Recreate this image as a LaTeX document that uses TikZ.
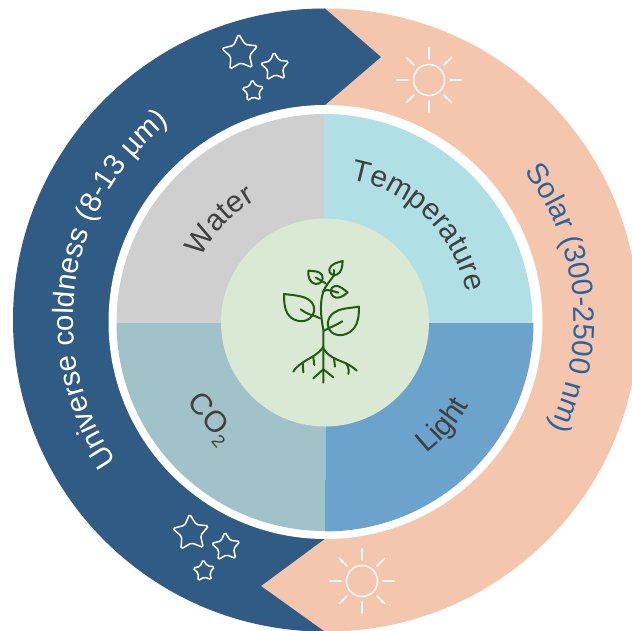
\documentclass[tikz,border=0pt]{standalone}
\usepackage{fontspec}
\setmainfont{Liberation Sans}
\usetikzlibrary{decorations.text}
\definecolor{bandblue}{HTML}{305B85}
\definecolor{bandpeach}{HTML}{F5C6AE}
\definecolor{solarblue}{HTML}{2A64A0}
\definecolor{qgrey}{HTML}{D0CFCF}
\definecolor{qtemp}{HTML}{B0DFE6}
\definecolor{qco}{HTML}{A2C2C9}
\definecolor{qlight}{HTML}{6CA3CC}
\definecolor{corefill}{HTML}{D9E9D3}
\definecolor{plantgreen}{HTML}{245A14}
\definecolor{labelgrey}{HTML}{404040}
\tikzset{
  iconline/.style={draw=white!95!bandpeach,line width=1.5pt,line cap=round},
  starline/.style={draw=white,line width=1.5pt,rounded corners=1.8pt},
  plantline/.style={draw=plantgreen,line width=2pt,line cap=round,line join=round},
  pics/fivestar/.style={code={
    \draw[starline] (-94:1) -- (-58:.52) -- (-22:1) -- (14:.52) -- (50:1) -- (86:.52)
      -- (122:1) -- (158:.52) -- (194:1) -- (230:.52) -- cycle;}},
  pics/sunicon/.style={code={
    \draw[iconline] (0,0) circle[radius=15.5];
    \foreach \a in {0,45,...,315}{\draw[iconline] (\a:21) -- (\a:32);}
  }}
}
\begin{document}
\begin{tikzpicture}[x=1pt,y=-1pt]
\useasboundingbox (0,0) rectangle (632,631);
\clip (0,0) rectangle (632,631);
% ring
\fill[bandpeach] (327,320) circle[radius=311.5];
\fill[bandblue] (325,8.5) -- (381,57) -- (325,105) -- (326,538) -- (261,586) -- (324.5,631.5)
  arc[start angle=90,end angle=270,radius=311.5] -- cycle;
\fill[white] (325.5,322) circle[radius=217];
% quadrants
\fill[qgrey] (324,322.5) -- (116.5,322.5) arc[start angle=180,end angle=270,radius=208.5] -- cycle;
\fill[qtemp] (324,322.5) -- (324,114) arc[start angle=-90,end angle=0,radius=208.5] -- (533.5,323) -- cycle;
\fill[qco] (326,322.5) -- (116.5,322.5) arc[start angle=180,end angle=90,radius=208.5] -- cycle;
\fill[qlight] (326,323) -- (533.5,323) arc[start angle=0,end angle=90,radius=208.5] -- cycle;
\fill[corefill] (325,322.5) circle[radius=104];
% band labels
\path[postaction={decorate,decoration={text along path,text align={center},
   text={|\fontsize{29.5}{30}\selectfont\color{white}|Universe coldness (8-13 µm)}}}]
   (323,320) ++(129:250) arc[start angle=129,end angle=248.6,radius=250];
\path[postaction={decorate,decoration={text along path,text align={center},
   text={|\fontsize{29.5}{30}\selectfont\color{solarblue}|Solar (300-2500 nm)}}}]
   (327,320) ++(-55:247) arc[start angle=-55,end angle=44,radius=247];
% quadrant labels
\path[postaction={decorate,decoration={text along path,text align={center},
   text={|\fontsize{30}{30}\selectfont\color{labelgrey}|Temperature}}}]
   (325,322.5) ++(-95:145) arc[start angle=-95,end angle=3,radius=145];
\path[postaction={decorate,decoration={text along path,text align={center},
   text={|\fontsize{30}{30}\selectfont\color{labelgrey}|Water}}}]
   (325,322.5) ++(190:140) arc[start angle=190,end angle=258,radius=140];
\path[postaction={decorate,decoration={text along path,text align={center},
   text={|\fontsize{30}{30}\selectfont\color{labelgrey}|Light}}}]
   (325,322.5) ++(72:166) arc[start angle=72,end angle=10,radius=166];
\node[rotate=-50,text=labelgrey,font=\fontsize{30}{30}\selectfont,inner sep=0pt] (co2) at (210,419)
   {CO\raisebox{-7pt}{\fontsize{18}{18}\selectfont 2}};
% icons
\path (240,53) pic[scale=19] {fivestar};
\path (275,67) pic[scale=15] {fivestar};
\path (253,91) pic[scale=11.5] {fivestar};
\path (191,533) pic[scale=19] {fivestar};
\path (226,547) pic[scale=15] {fivestar};
\path (204,571) pic[scale=11.5] {fivestar};
\path (429,80) pic {sunicon};
\path (362,581) pic {sunicon};
% plant (drawn in zoom-crop units)
\begin{scope}[shift={(260,250)},x=.3333pt,y=-.3333pt]
 \draw[plantline] (190,398) -- (190,240) .. controls (183,200) and (178,160) .. (190,125)
    .. controls (197,105) and (210,95) .. (222,75);
 \draw[plantline] (190,290) .. controls (175,315) and (150,322) .. (128,338) .. controls (115,347) and (105,355) .. (100,365);
 \draw[plantline] (190,295) .. controls (205,322) and (235,330) .. (258,340) .. controls (270,346) and (282,354) .. (290,362);
 \draw[plantline] (160,385) -- (190,358) -- (220,382);
 \draw[plantline] (128,338) -- (130,367);
 \draw[plantline] (160,322) -- (163,345);
 \draw[plantline] (222,325) -- (225,350);
 \draw[plantline] (258,340) .. controls (265,350) and (268,360) .. (265,372);
 % big left leaf
 \draw[plantline] (72,132) .. controls (105,136) and (135,138) .. (150,152) .. controls (170,170) and (165,195) .. (145,208)
    .. controls (125,220) and (95,212) .. (82,190) .. controls (72,172) and (72,150) .. (72,132) -- cycle;
 \draw[plantline] (122,178) .. controls (135,188) and (150,195) .. (165,198) -- (180,205);
 % big right leaf
 \draw[plantline] (297,170) .. controls (265,175) and (240,175) .. (222,188) .. controls (200,203) and (198,232) .. (215,247)
    .. controls (235,263) and (265,255) .. (282,235) .. controls (295,218) and (297,195) .. (297,170) -- cycle;
 \draw[plantline] (247,214) .. controls (230,225) and (210,232) .. (192,242);
 % small leaves
 \draw[plantline] (145,62) .. controls (160,64) and (178,62) .. (186,75) .. controls (193,90) and (182,103) .. (167,102)
    .. controls (150,100) and (143,80) .. (145,62) -- cycle;
 \draw[plantline] (168,83) -- (197,100);
 \draw[plantline] (248,33) .. controls (230,38) and (212,42) .. (208,58) .. controls (206,70) and (218,78) .. (230,74)
    .. controls (245,68) and (247,50) .. (248,33) -- cycle;
 \draw[plantline] (222,60) -- (222,78);
 \draw[plantline] (263,127) .. controls (250,118) and (240,106) .. (225,108) .. controls (212,110) and (208,128) .. (218,138)
    .. controls (230,150) and (250,140) .. (263,127) -- cycle;
 \draw[plantline] (188,125) .. controls (198,118) and (208,120) .. (214,122) -- (235,128);
\end{scope}
\end{tikzpicture}
\end{document}
